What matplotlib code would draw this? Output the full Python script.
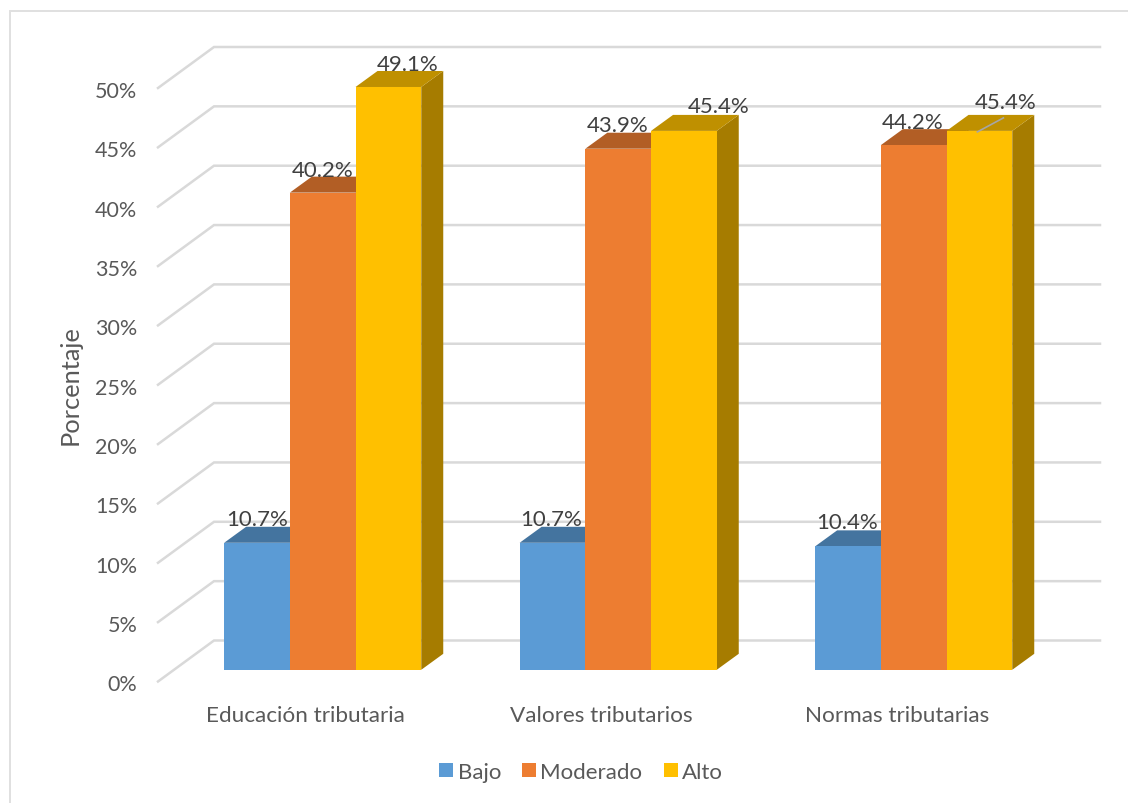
import matplotlib
matplotlib.use("Agg")
import matplotlib.pyplot as plt
from matplotlib.patches import Polygon, Rectangle
from matplotlib.lines import Line2D
from matplotlib.transforms import ScaledTranslation

W, H = 1128, 804
plt.rcParams['font.family'] = ['Lato', 'DejaVu Sans']

categories = ["Educación tributaria", "Valores tributarios", "Normas tributarias"]
series_names = ["Bajo", "Moderado", "Alto"]
bajo = [10.7, 10.7, 10.4]
moderado = [40.2, 43.9, 44.2]
alto = [49.1, 45.4, 45.4]
y_ticks = [0, 5, 10, 15, 20, 25, 30, 35, 40, 45, 50]
y_tick_labels = [f"{v}%" for v in y_ticks]

front_colors = ["#5B9BD5", "#ED7D31", "#FFC000"]
top_colors = ["#44749F", "#B25E25", "#BF9000"]
side_colors = ["#3E6A92", "#A05420", "#A67C00"]
text_c = "#595959"
label_c = "#404040"
grid_c = "#D9D9D9"

fig = plt.figure(figsize=(W / 100, H / 100), dpi=100, facecolor="white")

# pixel geometry of the plotting area
PX0, PX1 = 158.0, 1100.0
PY0, PY50 = 682.5, 89.0
ax = fig.add_axes([PX0 / W, 1 - PY0 / H, (PX1 - PX0) / W, (PY0 - PY50) / H])

# x: one unit per category; y: percent
GROUP = 295.5
C0 = 322.7
ax.set_xlim((PX0 - C0) / GROUP, (PX1 - C0) / GROUP)
ax.set_ylim(0, 50)
ppy = (PY0 - PY50) / 50.0
dx_u = lambda px: px / GROUP
dy_u = lambda px: px / ppy

# wall and floor gridlines
wall_dx, wall_dy = dx_u(56), dy_u(41)
x_front = ax.get_xlim()[0]
x_back = x_front + wall_dx
x_end = ax.get_xlim()[1]
for v in y_ticks:
    ax.plot([x_front, x_back, x_end], [v, v + wall_dy, v + wall_dy], color=grid_c,
            lw=1.8, clip_on=False, zorder=1, solid_joinstyle="miter")

# bars
bar_w = dx_u(65.7)
base = dy_u(11.7)
dep_x, dep_y = dx_u(22), dy_u(16)
series = [bajo, moderado, alto]
z = 3
for ci in range(len(categories)):
    for si, vals in enumerate(series):
        v = vals[ci]
        x0 = ci + (si - 1.5) * bar_w
        x1 = x0 + bar_w
        y0, y1 = base, base + v
        ax.add_patch(Polygon([(x1, y0), (x1 + dep_x, y0 + dep_y), (x1 + dep_x, y1 + dep_y), (x1, y1)],
                             fc=side_colors[si], ec="none", zorder=z, clip_on=False))
        ax.add_patch(Polygon([(x0, y1), (x0 + dep_x, y1 + dep_y), (x1 + dep_x, y1 + dep_y), (x1, y1)],
                             fc=top_colors[si], ec="none", zorder=z, clip_on=False))
        ax.bar(x0, v, width=bar_w, bottom=base, align="edge", color=front_colors[si],
               edgecolor="none", zorder=z + 1, clip_on=False)
        z += 2

# data labels (offset from bar top centre, in px)
label_offsets = {
    (0, 0): (0, 24), (0, 1): (0, 23), (0, 2): (19, 23),
    (1, 0): (-1, 24), (1, 1): (-1, 23.5), (1, 2): (35, 25),
    (2, 0): (-1, 24), (2, 1): (-1, 23), (2, 2): (26, 29),
}
for ci in range(len(categories)):
    for si, vals in enumerate(series):
        v = vals[ci]
        xc = ci + (si - 1) * bar_w
        ox, oy = label_offsets[(ci, si)]
        ax.text(xc + dx_u(ox), base + v + dy_u(oy), f"{v}%", ha="center", va="center",
                fontsize=16, color=label_c, zorder=50, clip_on=False)

# leader line of the last label
lead_x = 2 + bar_w
ax.plot([lead_x - dx_u(2), lead_x + dx_u(24)],
        [base + alto[2] - dy_u(1), base + alto[2] + dy_u(13)],
        color="#A6A6A6", lw=1.2, zorder=49, clip_on=False)

for s in ax.spines.values():
    s.set_visible(False)
ax.patch.set_alpha(0)
ax.set_yticks(y_ticks, y_tick_labels)
# category labels sit left of the bar groups in the reference
ax.set_xticks([i - dx_u(17) for i in range(len(categories))], categories)
ax.tick_params(axis="both", length=0, labelcolor=text_c)
ax.tick_params(axis="y", pad=15, labelsize=15.5)
ax.tick_params(axis="x", pad=17, labelsize=16.2)
shift_down = ScaledTranslation(0, -1 / 100, fig.dpi_scale_trans)
for lab in ax.get_yticklabels():
    lab.set_transform(lab.get_transform() + shift_down)
ax.set_ylabel("Porcentaje", fontsize=18.3, color=text_c)
ax.yaxis.set_label_coords((82 - PX0) / (PX1 - PX0), (PY0 - 385) / (PY0 - PY50))

handles = [Rectangle((0, 0), 1, 1, fc=c, ec="none") for c in front_colors]
fig.legend(handles, series_names, loc="center", bbox_to_anchor=(581 / W, 1 - 773 / H),
           ncol=3, frameon=False, fontsize=16, labelcolor=text_c,
           handlelength=0.63, handleheight=0.63, handletextpad=0.2, columnspacing=0.95)

# chart border: only the top and left edges are in the picture
fig.add_artist(Line2D([9.5 / W, 9.5 / W, 1], [0, 1 - 12 / H, 1 - 12 / H], transform=fig.transFigure,
                      color="#E0E0E0", lw=1.4, solid_joinstyle="miter"))

fig.savefig("out.png", dpi=100, facecolor="white")
